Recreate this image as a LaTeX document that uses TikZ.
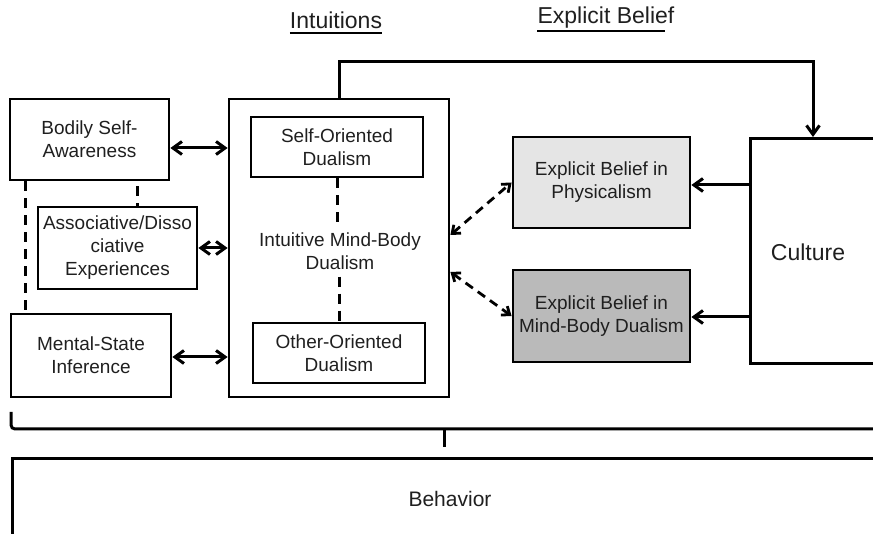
\documentclass[tikz,border=0pt]{standalone}
\usepackage{fontspec}
\setmainfont{Liberation Sans}
\usetikzlibrary{arrows.meta}

\begin{document}
\begin{tikzpicture}[x=1pt, y=-1pt,
  box/.style={draw, line width=2.8pt, align=center, inner sep=0pt,
    text=black!88, font=\fontsize{19}{23}\selectfont},
  label/.style={align=center, text=black!88, font=\fontsize{19}{23}\selectfont},
  heading/.style={inner sep=0pt, text=black!88, font=\fontsize{23}{27}\selectfont},
  biarrow/.style={line width=3pt, {Straight Barb[length=9pt,width=13pt]}-{Straight Barb[length=9pt,width=13pt]}},
  onearrow/.style={line width=3pt, -{Straight Barb[length=9pt,width=13pt]}},
  dasharrow/.style={line width=2.8pt, dash pattern=on 9pt off 6pt,
    {Straight Barb[length=7pt,width=11pt]}-{Straight Barb[length=7pt,width=11pt]}},
  dashline/.style={line width=3pt, dash pattern=on 10pt off 7pt}]

  % Рамка картинки
  \useasboundingbox (0,0) rectangle (873,534);
  \clip (0,0) rectangle (873,534);

  % Заголовки
  \node[heading] (hintuit) at (336,20) {Intuitions};
  \node[heading] (hexpl) at (606,18) {Explicit Belief};
  \draw[line width=2pt] ([yshift=-5pt]hintuit.base west) -- ([yshift=-5pt]hintuit.base east);
  \draw[line width=2pt] ([yshift=-7pt]hexpl.base west) -- ([yshift=-7pt,xshift=-10pt]hexpl.base east);

  % Ліва колонка
  \node[box, minimum width=159pt, minimum height=81pt] (bodily) at (89.5,139.5) {Bodily Self-\\Awareness};
  \node[box, minimum width=159pt, minimum height=82pt] (assoc) at (117.5,248) {Associative/Disso\\ciative\\Experiences};
  \node[box, minimum width=160pt, minimum height=83pt] (mental) at (91,355.5) {Mental-State\\Inference};

  % Інтуїтивний дуалізм
  \node[box, minimum width=220pt, minimum height=298pt] (intuit) at (339,248) {};
  \node[box, minimum width=172pt, minimum height=60pt] (selfdual) at (337,147) {Self-Oriented\\Dualism};
  \node[box, minimum width=172pt, minimum height=60pt] (otherdual) at (339,353) {Other-Oriented\\Dualism};
  \node[label, inner sep=7pt] (intuittxt) at (340,251) {Intuitive Mind-Body\\Dualism};

  % Явні переконання
  \node[box, fill=black!10, minimum width=177pt, minimum height=91pt] (phys) at (601.5,182.5) {Explicit Belief in\\Physicalism};
  \node[box, fill=black!27, minimum width=177pt, minimum height=92pt] (mbdual) at (601.5,316) {Explicit Belief in\\Mind-Body Dualism};

  % Культура та поведінка (виходять за край)
  \node[box, anchor=north west, minimum width=211pt, minimum height=225pt] (culture) at (749,137) {};
  \node[heading] (culturetxt) at (808,252) {Culture};
  \node[box, anchor=north west, minimum width=950pt, minimum height=120pt] (behavior) at (11,457) {};
  \node[label, font=\fontsize{21}{25}\selectfont] (behaviortxt) at (450,499) {Behavior};

  % Штрихові зв'язки
  \draw[dashline] (bodily.south -| 25,0) -- (mental.north -| 25,0);
  \draw[dashline] ([yshift=-5pt]bodily.south -| 137,0) -- (assoc.north -| 137,0);
  \draw[dashline] (selfdual.south) -- (selfdual.south |- intuittxt.north);
  \draw[dashline] (otherdual.north |- intuittxt.south) -- (otherdual.north);

  % Стрілки
  \draw[biarrow] (bodily.east |- 0,148) -- (intuit.west |- 0,148);
  \draw[biarrow] (assoc.east) -- (intuit.west |- assoc.east);
  \draw[biarrow] (mental.east |- 0,357) -- (intuit.west |- 0,357);
  \draw[dasharrow] (intuit.east |- 0,235) -- (phys.west);
  \draw[dasharrow] (intuit.east |- 0,272) -- (mbdual.west);
  \draw[onearrow] (culture.west |- 0,185) -- (phys.east |- 0,185);
  \draw[onearrow] (culture.west |- 0,317) -- (mbdual.east |- 0,317);
  \draw[onearrow] (intuit.north) -- ++(0,-36) -| (culture.north -| 813,0);

  % Дужка над поведінкою
  \draw[line width=3pt, rounded corners=4pt] (11,412) |- (880,429);
  \draw[line width=3pt] (444,429) -- (444,447);
\end{tikzpicture}
\end{document}
